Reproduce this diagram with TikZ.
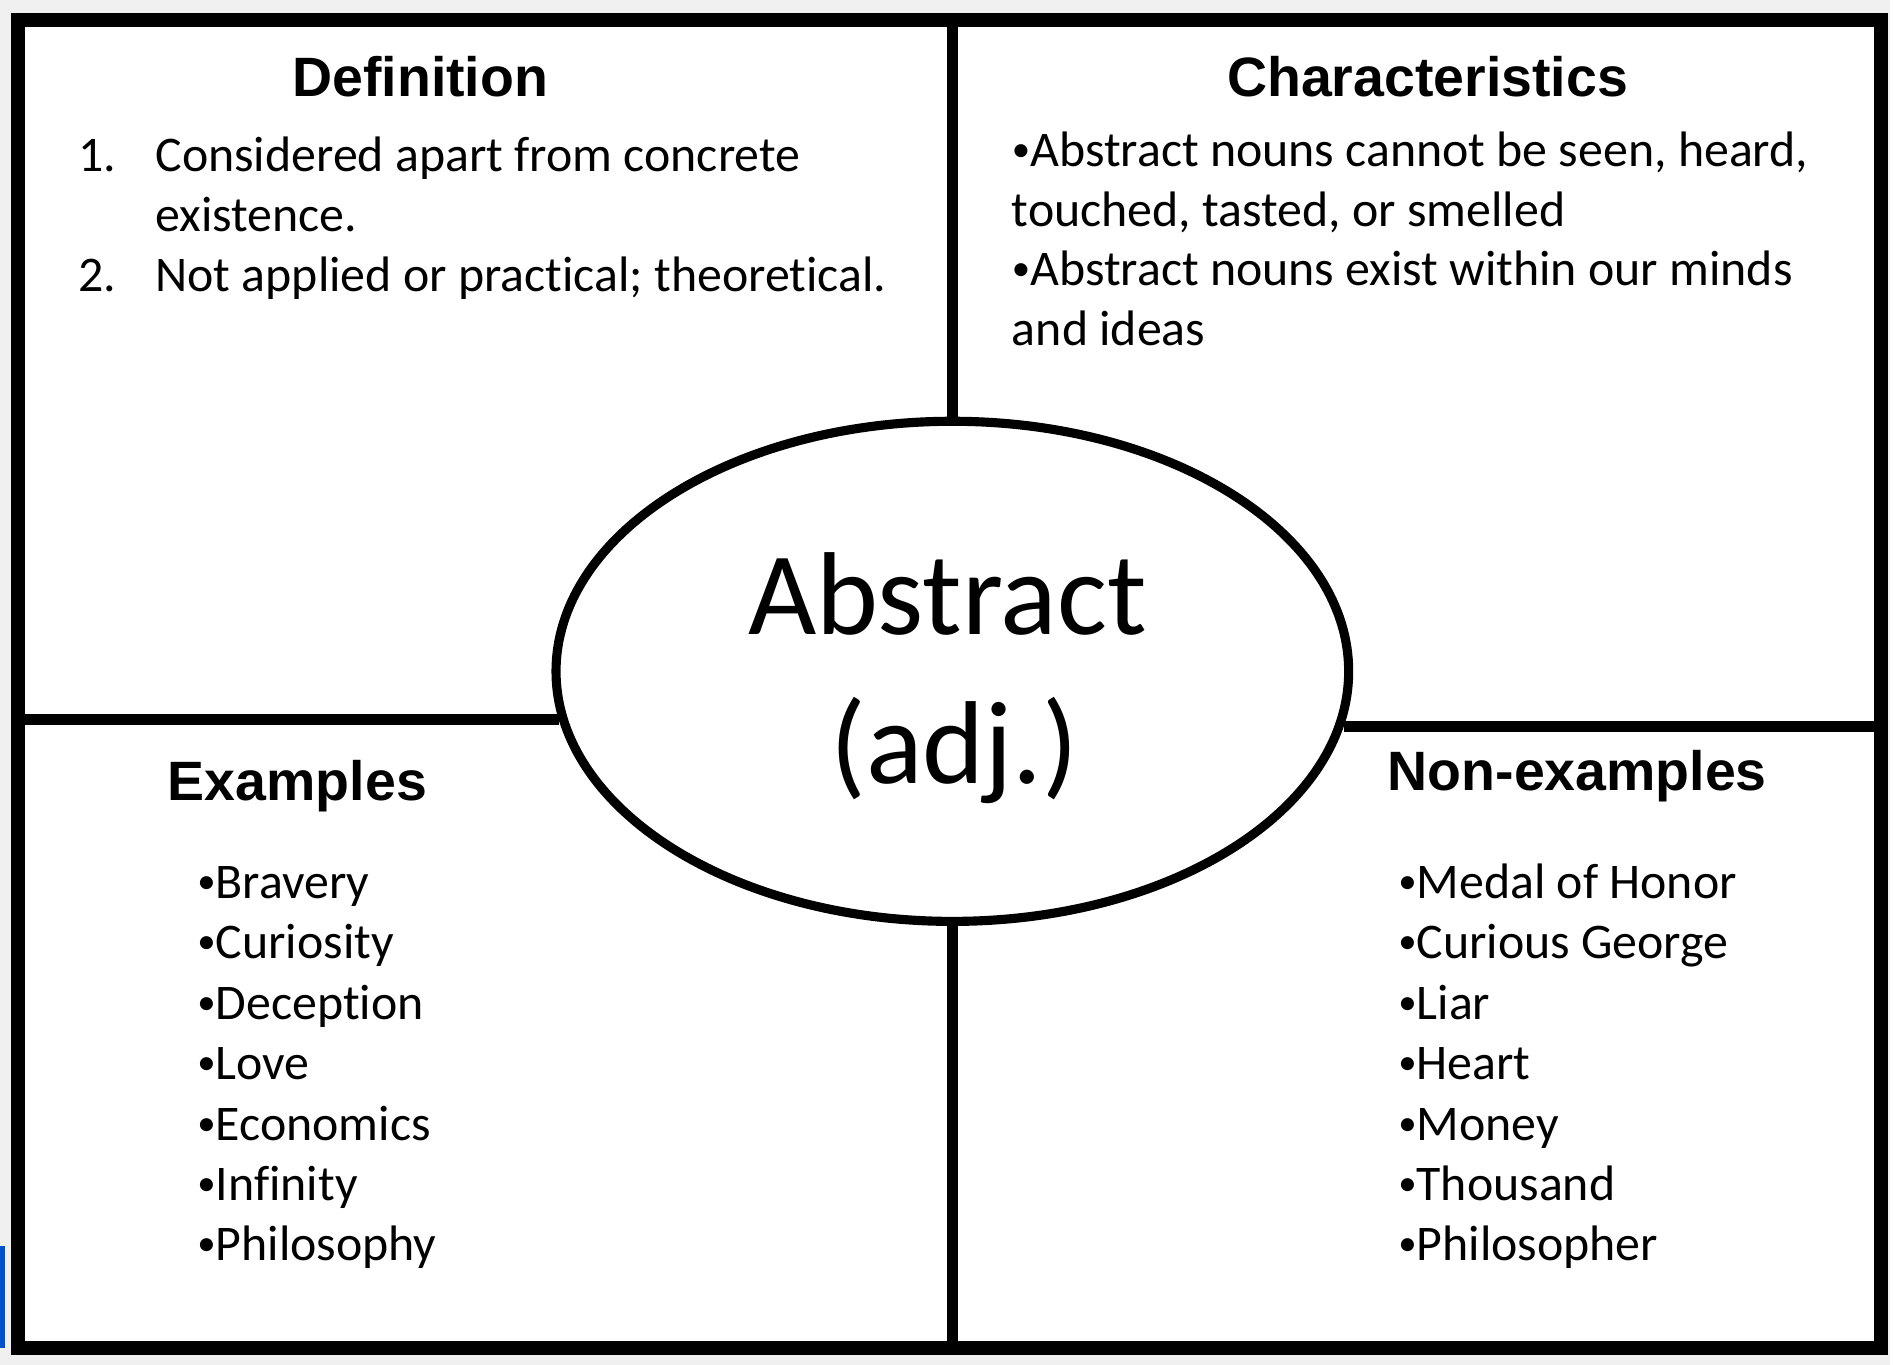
\documentclass[tikz,border=0pt]{standalone}
\usepackage{fontspec}
\setmainfont[Ligatures=NoCommon]{Carlito}
\newfontfamily\headfont{Liberation Sans}
\usetikzlibrary{shapes.geometric}
\newcommand\dotmark{\raisebox{0.1em}{\fontsize{10.5}{10}\selectfont•}}

\begin{document}
\begin{tikzpicture}[x=0.01cm,y=-0.01cm,
    head/.style={font=\headfont\bfseries\fontsize{15.8}{18}\selectfont,anchor=base,inner sep=0pt},
    txt/.style={font=\fontsize{14.2}{17}\selectfont,anchor=base west,inner sep=0pt},
    big/.style={font=\fontsize{33.6}{41}\selectfont,anchor=base,inner sep=0pt},
    divider/.style={line width=3pt}]
        \fill[gray!12](0,0)rectangle(1893,1367);
        \fill[blue!60!cyan!80!black](0,1248)rectangle(5,1350);
        \node[draw,fill=white,line width=4pt,minimum width=1866*0.01cm,minimum height=1330*0.01cm,inner sep=0pt](frame)at(951,685){};
        \node[draw,ellipse,fill=white,line width=2.6pt,minimum width=794*0.01cm,minimum height=501*0.01cm,inner sep=0pt](word)at(954,672.5){};

        % quarters
        \draw[divider](word.north|-frame.north)--(word.north);
        \draw[divider](word.south)--(word.south|-frame.south);
        \draw[divider](frame.west|-word.187.5)--(word.187.5);
        \draw[divider](word.352.5)--(frame.east|-word.352.5);

        \node[big](abs)at(949,636){Abstract};
        \node[big](adj)at(956,785){(adj.)};

        \node[head](defhead)at(421,97){Definition};
        \node[head](charhead)at(1430,97){Characteristics};
        \node[head](exhead)at(298,802){Examples};
        \node[head](nonhead)at(1580,792){Non-examples};

        \node[txt](def1)at(78,172){1.};
        \node[txt](def1a)at(155,172){Considered apart from concrete};
        \node[txt](def1b)at(155,232){existence.};
        \node[txt](def2)at(78,292){2.};
        \node[txt](def2a)at(155,292){Not applied or practical; theoretical.};

        \node[txt](char1)at(1013,167){\dotmark Abstract nouns cannot be seen, heard,};
        \node[txt](char2)at(1013,227){touched, tasted, or smelled};
        \node[txt](char3)at(1013,286){\dotmark Abstract nouns exist within our minds};
        \node[txt](char4)at(1013,346){and ideas};

        \foreach \w [count=\i] in {Bravery,Curiosity,Deception,Love,Economics,Infinity,Philosophy}
            \node[txt](ex\i)at(197,{900+60.5*(\i-1)}){\dotmark\w};
        \foreach \w [count=\i] in {Medal of Honor,Curious George,Liar,Heart,Money,Thousand,Philosopher}
            \node[txt](non\i)at(1400,{900+60.5*(\i-1)}){\dotmark\w};
    \end{tikzpicture}
\end{document}
